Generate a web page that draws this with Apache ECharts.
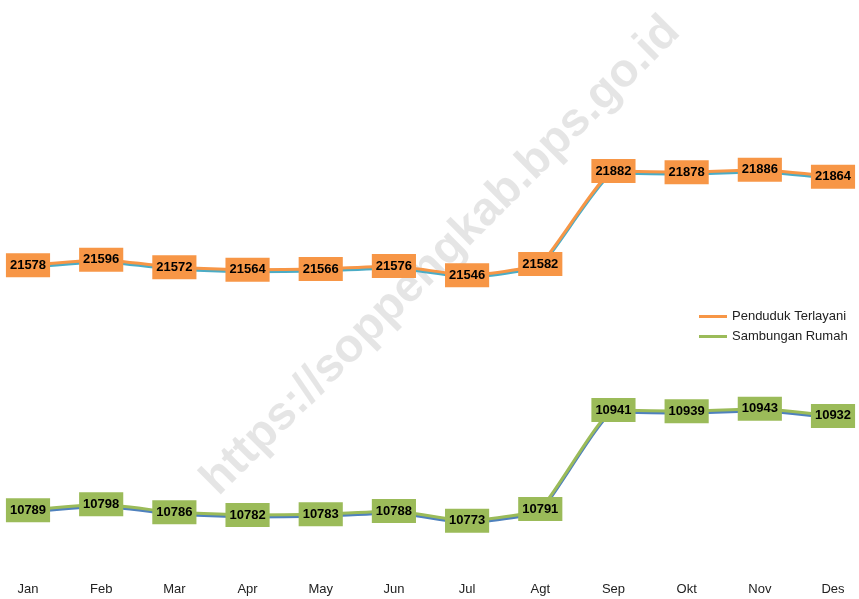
<!DOCTYPE html>
<html>
<head>
<meta charset="utf-8">
<script src="https://cdn.jsdelivr.net/npm/echarts@6/dist/echarts.min.js"></script>
<style>
  html, body { margin: 0; padding: 0; background: #fff; }
  #main { width: 859px; height: 599px; }
</style>
</head>
<body>
<div id="main"></div>
<script>
// bulan
var months = ['Jan', 'Feb', 'Mar', 'Apr', 'May', 'Jun', 'Jul', 'Agt', 'Sep', 'Okt', 'Nov', 'Des'];
// jumlah penduduk terlayani
var pendudukTerlayani = [21578, 21596, 21572, 21564, 21566, 21576, 21546, 21582, 21882, 21878, 21886, 21864];
// jumlah sambungan rumah
var sambunganRumah = [10789, 10798, 10786, 10782, 10783, 10788, 10773, 10791, 10941, 10939, 10943, 10932];

var myChart = echarts.init(document.getElementById('main'));

// kotak label nilai
function boxLabel(bg) {
    return {
        show: true,
        position: 'inside',
        backgroundColor: bg,
        color: '#000',
        fontWeight: 'bold',
        fontSize: 13,
        fontFamily: 'Liberation Sans',
        padding: [6, 4, 5, 4]
    };
}

var option = {
    animation: false,
    textStyle: { fontFamily: 'Liberation Sans' },
    graphic: [{
        type: 'text',
        x: 441,
        y: 256,
        rotation: Math.PI / 4,
        style: {
            text: 'https://soppengkab.bps.go.id',
            font: 'bold 47px "Liberation Sans"',
            fill: 'rgba(0,0,0,0.1)',
            align: 'center',
            verticalAlign: 'middle'
        },
        z: 0
    }],
    legend: {
        orient: 'vertical',
        left: 694,
        top: 305,
        itemWidth: 28,
        itemHeight: 3,
        itemGap: 7,
        icon: 'rect',
        textStyle: { fontSize: 13, color: '#222', fontFamily: 'Liberation Sans' },
        data: ['Penduduk Terlayani', 'Sambungan Rumah']
    },
    grid: { left: 28, right: 26, top: 0, bottom: 24 },
    xAxis: {
        type: 'category',
        boundaryGap: false,
        data: months,
        axisLine: { show: false },
        axisTick: { show: false },
        axisLabel: { color: '#222', fontSize: 13, margin: 8 }
    },
    yAxis: [{
        type: 'value',
        min: 20579,
        max: 22434,
        show: false
    }, {
        type: 'value',
        min: 10691,
        max: 11562,
        show: false
    }],
    series: [{
        name: 'Penduduk Terlayani',
        type: 'line',
        yAxisIndex: 0,
        data: pendudukTerlayani,
        smooth: 0.12,
        symbol: 'circle',
        symbolSize: 0.1,
        color: '#F79646',
        lineStyle: {
            width: 3,
            color: '#F79646',
            shadowColor: '#4BACC6',
            shadowOffsetY: 2,
            shadowBlur: 0
        },
        label: boxLabel('#F79646'),
        z: 3
    }, {
        name: 'Sambungan Rumah',
        type: 'line',
        yAxisIndex: 1,
        data: sambunganRumah,
        smooth: 0.12,
        symbol: 'circle',
        symbolSize: 0.1,
        color: '#9BBB59',
        lineStyle: {
            width: 3,
            color: '#9BBB59',
            shadowColor: '#4F81BD',
            shadowOffsetY: 2,
            shadowBlur: 0
        },
        label: boxLabel('#9BBB59'),
        z: 3
    }]
};

myChart.setOption(option);
</script>
</body>
</html>
